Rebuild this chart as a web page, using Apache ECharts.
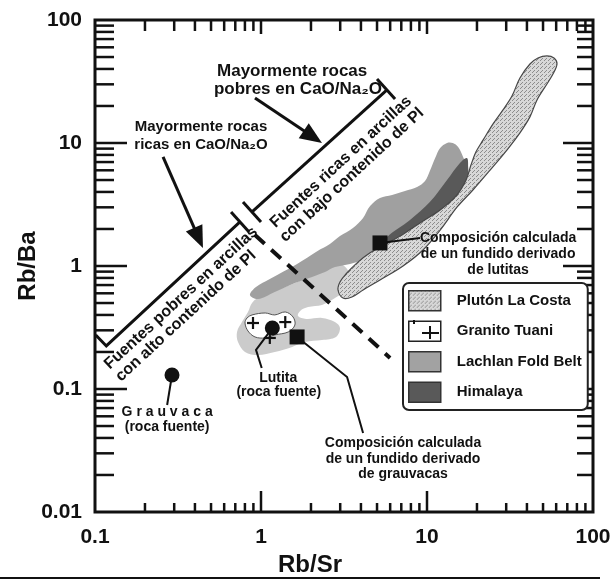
<!DOCTYPE html>
<html><head><meta charset="utf-8">
<script src="https://cdn.jsdelivr.net/npm/echarts@6/dist/echarts.min.js"></script>
<style>html,body{margin:0;padding:0;background:#fff}#c{width:616px;height:584px}</style>
</head><body><div id="c"></div>
<script>
// ---- axis ticks / labels ----
const xTickLabels = ['0.1', '1', '10', '100'];
const yTickLabels = ['0.01', '0.1', '1', '10', '100'];
const xMajorTicks = [1, 10];
const xMinorTicks = [0.2,0.3,0.4,0.5,0.6,0.7,0.8,0.9, 2,3,4,5,6,7,8,9, 20,30,40,50,60,70,80,90];
const yMajorTicks = [0.1, 1, 10];
const yMinorTicks = [0.02,0.03,0.04,0.05,0.06,0.07,0.08,0.09, 0.2,0.3,0.4,0.5,0.6,0.7,0.8,0.9, 2,3,4,5,6,7,8,9, 20,30,40,50,60,70,80,90];

// ---- fields (Rb/Sr, Rb/Ba) ----
const plutonLaCosta = [[3.12,0.549],[2.91,0.638],[2.99,0.741],[3.25,0.861],[3.79,1.06],[4.54,1.28],[5.51,1.48],[6.88,1.75],[9.08,2.24],[12.0,2.85],[15.0,3.71],[17.2,5.00],[18.4,6.62],[19.7,8.45],[21.8,10.6],[25.0,14.3],[28.7,18.6],[32.5,24.1],[36.3,33.8],[41.7,43.9],[46.6,49.1],[52.8,51.0],[58.2,49.1],[60.7,43.9],[57.4,36.4],[52.8,30.2],[46.0,22.4],[41.7,16.3],[36.3,12.1],[30.3,8.77],[24.0,6.03],[18.9,4.15],[15.2,3.02],[12.0,1.96],[9.46,1.35],[7.17,1.00],[5.21,0.769],[4.12,0.638],[3.53,0.560]];
const lachlanFoldBelt = [[0.858,0.581],[0.933,0.675],[1.13,0.784],[1.65,1.04],[2.18,1.32],[2.60,1.51],[2.99,1.75],[3.58,2.04],[4.12,2.46],[4.54,3.07],[5.21,3.57],[6.16,3.78],[7.37,4.07],[8.71,4.39],[9.73,4.91],[10.4,5.92],[11.2,7.55],[12.0,9.11],[13.2,10.0],[14.3,10.0],[15.4,9.28],[16.5,7.70],[17.4,6.38],[17.7,5.00],[16.7,4.15],[13.8,3.13],[10.4,2.37],[7.90,1.85],[5.99,1.48],[4.54,1.18],[3.44,1.04],[2.79,0.981],[2.43,0.894],[2.03,0.814],[1.60,0.727],[1.21,0.615],[0.959,0.539]];
const himalaya = [[5.74,1.72],[7.90,2.37],[10.4,3.31],[13.2,5.00],[15.8,6.88],[17.4,7.55],[17.7,6.38],[17.7,4.73],[16.5,4.15],[13.2,3.02],[10.4,2.46],[7.90,1.96],[6.24,1.63],[5.74,1.54]];
const lightField = [[0.959,0.549],[1.50,0.701],[2.27,0.894],[2.99,1.04],[3.44,0.845],[3.21,0.638],[2.79,0.549],[2.33,0.482],[1.92,0.464],[1.72,0.431],[1.67,0.392],[1.87,0.371],[2.33,0.378],[2.79,0.350],[2.99,0.313],[2.83,0.265],[2.33,0.250],[1.84,0.241],[1.54,0.220],[1.21,0.200],[0.959,0.189],[0.801,0.200],[0.727,0.241],[0.717,0.291],[0.768,0.350],[0.835,0.423],[0.883,0.500]];
const granitoTuani = [[0.801,0.344],[0.824,0.378],[0.883,0.400],[1.06,0.415],[1.21,0.400],[1.40,0.423],[1.56,0.385],[1.60,0.331],[1.46,0.291],[1.21,0.275],[1.06,0.260],[0.920,0.265],[0.835,0.296]];
const granitoCrosses = [[0.895,0.344],[1.40,0.350],[1.13,0.260]];

// ---- points ----
const lutitaSource = [[1.17,0.313]];
const grauvacaSource = [[0.291,0.130]];
const meltFromGrauvacas = [[1.65,0.265]];
const meltFromLutitas = [[5.21,1.54]];

// ---- annotation lines ----
const lowerBoundary = [[0.101,0.275],[0.117,0.224],[0.747,2.28]];
const upperBoundary = [[0.883,2.75],[5.74,27.0]];
const upperCap = [[5.00,33.1],[6.42,22.8]];
const breakTicks = [[[0.660,2.75],[0.847,1.89]], [[0.779,3.31],[1.00,2.28]]];
const dashedDivider = [[0.920,1.79],[5.99,0.179]];
const arrowPobres = [[0.920,23.2],[2.33,10.0]];
const arrowRicas = [[0.257,7.70],[0.447,1.40]];
const leaderGrauvaca = [[0.291,0.130],[0.272,0.0741]];
const leaderLutita = [[1.17,0.313],[0.933,0.208],[1.01,0.148]];
const leaderMeltGrauvacas = [[1.65,0.265],[3.30,0.125],[4.12,0.0439]];
const leaderMeltLutitas = [[5.21,1.54],[9.08,1.69]];

const ANG = 0.745;
const labels = [
  {t:'Mayormente rocas', p:[1.54,38.5], s:17},
  {t:'pobres en CaO/Na\u2082O', p:[1.67,27.5], s:17},
  {t:'Mayormente rocas', p:[0.435,13.5], s:15},
  {t:'ricas en CaO/Na\u2082O', p:[0.435,9.63], s:15},
  {t:'Fuentes pobres en arcillas', p:[0.330,0.549], s:16, r:ANG},
  {t:'con alto contenido de Pl', p:[0.353,0.392], s:16, r:ANG},
  {t:'Fuentes ricas en arcillas', p:[3.03,7.01], s:16, r:ANG},
  {t:'con bajo contenido de Pl', p:[3.53,5.49], s:16, r:ANG},
  {t:'G r a u v a c a', p:[0.272,0.065], s:14},
  {t:'(roca fuente)', p:[0.272,0.0491], s:14},
  {t:'Lutita', p:[1.27,0.123], s:14},
  {t:'(roca fuente)', p:[1.28,0.0945], s:14},
  {t:'Composición calculada', p:[7.17,0.0364], s:14},
  {t:'de un fundido derivado', p:[7.17,0.0270], s:14},
  {t:'de grauvacas', p:[7.17,0.0204], s:14},
  {t:'Composición calculada', p:[26.8,1.69], s:14},
  {t:'de un fundido derivado', p:[26.8,1.25], s:14},
  {t:'de lutitas', p:[26.8,0.928], s:14}
];

const FONT = '"Liberation Sans", Arial, Helvetica, sans-serif';
const INK = '#111';

function makeStipple() {
  const c = document.createElement('canvas');
  c.width = 4; c.height = 4;
  const g = c.getContext('2d');
  g.fillStyle = '#d8d8d8'; g.fillRect(0,0,4,4);
  g.fillStyle = '#8c8c8c';
  g.fillRect(0,0,1,1); g.fillRect(2,2,1,1); g.fillRect(1,3,1,1);
  return c;
}
const plutonFill = {image: makeStipple(), repeat: 'repeat'};

function polySeries(name, pts, style, z) {
  return {
    type: 'custom', name: name, coordinateSystem: 'cartesian2d', data: pts, z: z,
    silent: true, itemStyle: {color: style.fill},
    renderItem: function (params, api) {
      if (params.dataIndex !== 0) return null;
      return {type: 'polygon', shape: {points: pts.map(function (p) { return api.coord(p); }), smooth: 0.35},
              style: Object.assign({}, style)};
    }
  };
}

const tickData = [];
xMajorTicks.forEach(function (v) { tickData.push([v, 1, 0, 1]); });
xMinorTicks.forEach(function (v) { tickData.push([v, 1, 0, 0]); });
yMajorTicks.forEach(function (v) { tickData.push([v, 1, 1, 1]); });
yMinorTicks.forEach(function (v) { tickData.push([v, 1, 1, 0]); });

function lab(list, v) {
  for (const s of list) { if (Math.abs(Math.log10(v) - Math.log10(parseFloat(s))) < 1e-6) return s; }
  return '';
}

const chart = echarts.init(document.getElementById('c'), null, {renderer: 'canvas'});
chart.setOption({
  animation: false,
  backgroundColor: '#fff',
  grid: {left: 95, right: 23, top: 20, bottom: 72, show: true, borderColor: INK, borderWidth: 3,
         backgroundColor: 'transparent', containLabel: false, outerBoundsMode: 'none'},
  xAxis: {
    type: 'log', logBase: 10, min: 0.1, max: 100, splitNumber: 3,
    axisLine: {show: false}, axisTick: {show: false}, splitLine: {show: false},
    axisLabel: {fontSize: 21, fontWeight: 'bold', fontFamily: FONT, color: INK, margin: 15,
                formatter: function (v) { return lab(xTickLabels, v); }},
    name: 'Rb/Sr', nameLocation: 'middle', nameGap: 41, nameMoveOverlap: false,
    nameTextStyle: {fontSize: 24, fontWeight: 'bold', fontFamily: FONT, color: INK, padding: [0, 68, 0, 0]}
  },
  yAxis: {
    type: 'log', logBase: 10, min: 0.01, max: 100, splitNumber: 4,
    axisLine: {show: false}, axisTick: {show: false}, splitLine: {show: false},
    axisLabel: {fontSize: 21, fontWeight: 'bold', fontFamily: FONT, color: INK, margin: 13,
                formatter: function (v) { return lab(yTickLabels, v); }},
    name: 'Rb/Ba', nameLocation: 'middle', nameGap: 55, nameMoveOverlap: false,
    nameTextStyle: {fontSize: 24, fontWeight: 'bold', fontFamily: FONT, color: INK}
  },
  legend: {
    orient: 'vertical', left: 403, top: 283, padding: [7, 6, 7, 5],
    itemWidth: 32, itemHeight: 20, itemGap: 9, icon: 'rect', selectedMode: false, z: 20,
    backgroundColor: '#fff', borderColor: '#222', borderWidth: 2, borderRadius: 6,
    textStyle: {fontSize: 15, fontWeight: 'bold', fontFamily: FONT, color: INK, padding: [0, 0, 0, 11]},
    data: [
      {name: 'Plutón La Costa', itemStyle: {color: plutonFill, borderColor: '#333', borderWidth: 1.5}},
      {name: 'Granito Tuani', itemStyle: {color: '#fff', borderColor: '#222', borderWidth: 1.5}},
      {name: 'Lachlan Fold Belt', itemStyle: {color: '#a2a2a2', borderColor: '#333', borderWidth: 1.5}},
      {name: 'Himalaya', itemStyle: {color: '#595959', borderColor: '#333', borderWidth: 1.5}}
    ]
  },
  graphic: [
    {type: 'line', z: 100, shape: {x1: 0, y1: 578, x2: 600, y2: 578}, style: {stroke: INK, lineWidth: 2}},
    {type: 'line', z: 100, shape: {x1: 430, y1: 326, x2: 430, y2: 339}, style: {stroke: INK, lineWidth: 2}},
    {type: 'line', z: 100, shape: {x1: 422, y1: 333, x2: 439, y2: 333}, style: {stroke: INK, lineWidth: 2}},
    {type: 'line', z: 100, shape: {x1: 414, y1: 320, x2: 414, y2: 324}, style: {stroke: INK, lineWidth: 2}}
  ],
  series: [
    polySeries('lightField', lightField, {fill: '#cbcbcb'}, 1),
    polySeries('Lachlan Fold Belt', lachlanFoldBelt, {fill: '#a0a0a0'}, 2),
    polySeries('Himalaya', himalaya, {fill: '#595959'}, 3),
    polySeries('Plutón La Costa', plutonLaCosta, {fill: plutonFill, stroke: '#474747', lineWidth: 1.2}, 4),
    polySeries('Granito Tuani', granitoTuani, {fill: '#fff', stroke: '#555', lineWidth: 1}, 5),
    {
      type: 'custom', coordinateSystem: 'cartesian2d', data: granitoCrosses, z: 6, silent: true,
      renderItem: function (params, api) {
        const p = api.coord([api.value(0), api.value(1)]);
        const st = {stroke: INK, lineWidth: 2.2};
        return {type: 'group', children: [
          {type: 'line', shape: {x1: p[0]-6, y1: p[1], x2: p[0]+6, y2: p[1]}, style: st},
          {type: 'line', shape: {x1: p[0], y1: p[1]-6, x2: p[0], y2: p[1]+6}, style: st}
        ]};
      }
    },
    {
      type: 'custom', coordinateSystem: 'cartesian2d', data: [[1, 1]], z: 7, silent: true,
      renderItem: function (params, api) {
        const c = function (p) { return api.coord(p); };
        const ch = [];
        const poly = function (pts, w) {
          ch.push({type: 'polyline', shape: {points: pts.map(c)}, style: {stroke: INK, lineWidth: w, fill: null}});
        };
        poly(lowerBoundary, 3); poly(upperBoundary, 3); poly(upperCap, 3);
        breakTicks.forEach(function (t) { poly(t, 3); });
        ch.push({type: 'polyline', shape: {points: dashedDivider.map(c)},
                 style: {stroke: INK, lineWidth: 4, lineDash: [13, 9], fill: null}});
        [arrowPobres, arrowRicas].forEach(function (a) {
          const p0 = c(a[0]), p1 = c(a[1]);
          const dx = p1[0]-p0[0], dy = p1[1]-p0[1], L = Math.hypot(dx, dy);
          const ux = dx/L, uy = dy/L, hl = 22, hw = 9;
          const bx = p1[0]-ux*hl, by = p1[1]-uy*hl;
          ch.push({type: 'line', shape: {x1: p0[0], y1: p0[1], x2: bx+ux*2, y2: by+uy*2}, style: {stroke: INK, lineWidth: 3}});
          ch.push({type: 'polygon', shape: {points: [p1, [bx-uy*hw, by+ux*hw], [bx+uy*hw, by-ux*hw]]}, style: {fill: INK}});
        });
        [leaderGrauvaca, leaderLutita, leaderMeltGrauvacas, leaderMeltLutitas].forEach(function (l) { poly(l, 2); });
        return {type: 'group', children: ch};
      }
    },
    {type: 'scatter', data: lutitaSource, symbol: 'circle', symbolSize: 15, itemStyle: {color: INK, opacity: 1}, z: 8, silent: true},
    {type: 'scatter', data: grauvacaSource, symbol: 'circle', symbolSize: 15, itemStyle: {color: INK, opacity: 1}, z: 8, silent: true},
    {type: 'scatter', data: meltFromGrauvacas, symbol: 'rect', symbolSize: 15, itemStyle: {color: INK, opacity: 1}, z: 8, silent: true},
    {type: 'scatter', data: meltFromLutitas, symbol: 'rect', symbolSize: 15, itemStyle: {color: INK, opacity: 1}, z: 8, silent: true},
    {
      type: 'custom', coordinateSystem: 'cartesian2d', data: labels.map(function (l) { return l.p; }), z: 9, silent: true,
      renderItem: function (params, api) {
        const l = labels[params.dataIndex];
        const p = api.coord([api.value(0), api.value(1)]);
        return {type: 'text', x: p[0], y: p[1], rotation: l.r || 0,
                style: {text: l.t, fontSize: l.s, fontWeight: 'bold', fontFamily: FONT, fill: INK,
                        align: 'center', verticalAlign: 'middle'}};
      }
    },
    {
      type: 'custom', coordinateSystem: 'cartesian2d', data: tickData, z: 10, silent: true,
      dimensions: ['v', 'one', 'axis', 'major'], encode: {x: 'v', y: 'one'},
      renderItem: function (params, api) {
        const v = api.value(0), ax = api.value(2), major = api.value(3);
        const st = {stroke: INK, lineWidth: 2.5};
        if (ax === 0) {
          const b = api.coord([v, 0.01]), t = api.coord([v, 100]);
          return {type: 'group', children: [
            {type: 'line', shape: {x1: b[0], y1: b[1], x2: b[0], y2: b[1] - (major ? 21 : 9)}, style: st},
            {type: 'line', shape: {x1: t[0], y1: t[1], x2: t[0], y2: t[1] + (major ? 14 : 11)}, style: st}
          ]};
        }
        const l = api.coord([0.1, v]), r = api.coord([100, v]);
        return {type: 'group', children: [
          {type: 'line', shape: {x1: l[0], y1: l[1], x2: l[0] + (major ? 32 : 19), y2: l[1]}, style: st},
          {type: 'line', shape: {x1: r[0], y1: r[1], x2: r[0] - (major ? 30 : 16), y2: r[1]}, style: st}
        ]};
      }
    }
  ]
});
</script>
</body></html>
